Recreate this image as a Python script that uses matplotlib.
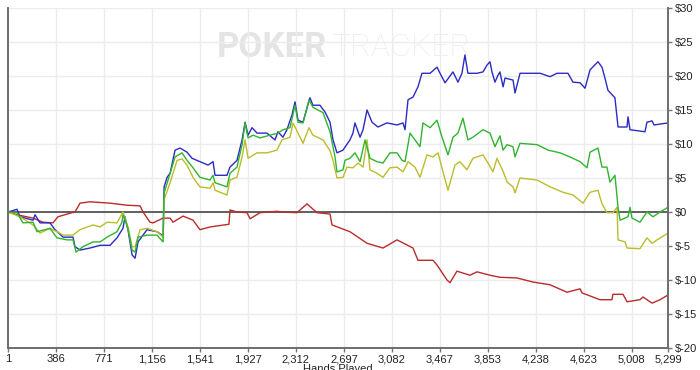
import matplotlib
matplotlib.use('Agg')
import matplotlib.pyplot as plt


plt.rcParams['font.family'] = ['Liberation Sans', 'DejaVu Sans']

# x ticks (hands played) and y ticks (dollars)
hand_ticks = [1, 386, 771, 1156, 1541, 1927, 2312, 2697, 3082, 3467, 3853, 4238, 4623, 5008, 5299]
dollar_ticks = [-20, -15, -10, -5, 0, 5, 10, 15, 20, 25, 30]

# blue: total winnings
blue_hands = [1, 73, 97, 202, 218, 258, 338, 378, 443, 523, 539, 579, 659, 740, 820, 876, 924, 940,
              964, 997, 1021, 1045, 1117, 1197, 1238, 1246, 1254, 1278, 1302, 1342, 1382, 1438, 1478,
              1542, 1607, 1647, 1663, 1759, 1783, 1839, 1880, 1904, 1928, 1960, 2000, 2080, 2144, 2168,
              2208, 2240, 2281, 2305, 2329, 2369, 2425, 2449, 2505, 2546, 2586, 2610, 2642, 2690, 2746,
              2770, 2786, 2827, 2851, 2883, 2923, 2971, 3043, 3124, 3172, 3188, 3212, 3252, 3292, 3324,
              3389, 3445, 3469, 3509, 3573, 3613, 3645, 3669, 3693, 3766, 3814, 3846, 3870, 3886, 3910,
              3934, 3950, 3975, 3991, 4055, 4071, 4111, 4272, 4352, 4408, 4496, 4536, 4593, 4633, 4673,
              4737, 4769, 4793, 4817, 4873, 4898, 4970, 4978, 4994, 5114, 5130, 5171, 5187, 5299]
blue_dollars = [0, 0.4, -0.7, -1.2, -0.4, -1.6, -1.6, -2.6, -3.7, -3.7, -5.1, -5.6, -5.3, -4.9, -4.9,
                -3.8, -2.4, -0.7, -2.6, -6.3, -6.8, -4.4, -2.6, -2.9, -3.4, -3.4, 3.7, 5.1, 5.7, 9.1,
                9.4, 8.8, 7.9, 7.4, 6.9, 7.4, 5.4, 5.4, 6.6, 7.6, 10.6, 13.2, 11.3, 12.4, 11.6, 11.6,
                10.6, 11.8, 11.0, 12.1, 14.3, 16.2, 13.5, 13.2, 16.8, 15.7, 15.7, 14.7, 13.2, 10.6,
                8.7, 9.1, 10.6, 11.6, 13.1, 11.0, 12.1, 15.0, 13.2, 12.5, 13.1, 12.8, 13.1, 12.1,
                16.5, 16.9, 18.4, 20.4, 20.4, 21.3, 20.4, 19.0, 20.6, 19.1, 20.4, 23.1, 20.4, 20.4,
                20.6, 21.6, 22.1, 20.6, 19.1, 20.1, 20.6, 18.4, 19.7, 19.4, 17.5, 20.4, 20.4, 19.9,
                20.4, 20.4, 19.1, 19.0, 18.2, 20.9, 22.1, 21.3, 19.7, 17.9, 16.8, 12.5, 12.5, 14.0,
                12.1, 11.8, 13.2, 13.4, 12.8, 13.1]

# green
green_hands = [1, 73, 121, 202, 234, 338, 394, 475, 523, 547, 603, 683, 740, 796, 876, 916, 924, 964,
               997, 1021, 1045, 1117, 1197, 1246, 1254, 1286, 1342, 1398, 1438, 1486, 1542, 1623, 1647,
               1663, 1759, 1783, 1839, 1880, 1904, 1928, 1968, 2024, 2104, 2168, 2208, 2265, 2305, 2329,
               2369, 2417, 2449, 2530, 2586, 2626, 2642, 2690, 2706, 2746, 2786, 2827, 2867, 2907, 2963,
               3011, 3067, 3124, 3164, 3188, 3228, 3268, 3308, 3332, 3389, 3445, 3485, 3533, 3573, 3613,
               3653, 3693, 3733, 3814, 3870, 3910, 3950, 3975, 4007, 4055, 4071, 4111, 4248, 4336, 4432,
               4512, 4593, 4649, 4673, 4737, 4769, 4809, 4833, 4873, 4898, 4914, 4978, 4994, 5010, 5074,
               5130, 5179, 5235, 5299]
green_dollars = [0, -0.1, -1.6, -1.5, -2.9, -2.4, -3.8, -4.1, -4.1, -5.9, -5.1, -4.4, -4.4, -3.7, -2.9,
                 -1.5, -0.4, -2.4, -5.6, -5.9, -3.7, -3.4, -3.4, -4.4, 2.8, 4.7, 8.1, 8.7, 7.6, 6.5,
                 5.1, 4.7, 5.4, 4.3, 3.7, 5.7, 6.6, 9.9, 13.1, 10.9, 11.3, 10.9, 11.3, 11.6, 12.1, 12.4,
                 15.7, 13.2, 13.1, 16.5, 15.4, 14.6, 11.8, 8.1, 5.9, 6.2, 7.6, 7.9, 8.7, 7.4, 10.6, 7.9,
                 7.4, 7.2, 8.7, 8.7, 7.6, 7.4, 11.6, 10.6, 9.6, 13.1, 12.4, 13.5, 11.0, 8.4, 11.0, 11.6,
                 13.8, 10.6, 11.0, 12.1, 11.6, 9.6, 11.2, 9.1, 9.9, 9.6, 8.1, 10.1, 9.9, 9.1, 8.7, 8.1,
                 7.4, 6.5, 8.8, 9.4, 6.6, 6.6, 4.4, 5.4, 0.7, -1.2, -0.7, 0.7, -0.9, -1.5, 0, -0.7, 0,
                 0.7]

# yellow
yellow_hands = [1, 97, 202, 258, 338, 394, 443, 523, 579, 683, 740, 796, 876, 924, 964, 997, 1021, 1061,
                1117, 1197, 1246, 1254, 1302, 1358, 1398, 1438, 1486, 1542, 1623, 1647, 1663, 1759, 1783,
                1839, 1880, 1904, 1928, 2000, 2080, 2160, 2200, 2265, 2289, 2329, 2369, 2417, 2449, 2530,
                2586, 2610, 2642, 2690, 2722, 2770, 2811, 2851, 2883, 2907, 2963, 3011, 3067, 3124, 3172,
                3212, 3268, 3308, 3364, 3413, 3453, 3493, 3533, 3589, 3629, 3685, 3733, 3814, 3854, 3894,
                3926, 3975, 4007, 4055, 4071, 4111, 4248, 4352, 4456, 4536, 4617, 4673, 4737, 4769, 4809,
                4857, 4890, 4898, 4954, 4970, 5074, 5130, 5171, 5211, 5299]
yellow_dollars = [0, -0.7, -1.9, -3.1, -2.4, -2.9, -3.4, -3.4, -2.6, -1.9, -2.2, -1.5, -1.6, 0, -2.2,
                  -5.1, -5.1, -2.6, -2.4, -2.9, -3.7, 1.8, 4.3, 7.6, 7.8, 6.9, 5.1, 3.7, 3.5, 4.3, 3.2,
                  2.5, 4.7, 5.1, 8.1, 10.6, 7.9, 8.7, 8.7, 9.1, 10.6, 11.0, 13.1, 11.6, 10.1, 12.4, 11.3,
                  10.6, 9.0, 7.6, 5.0, 5.1, 6.6, 6.5, 7.2, 6.6, 10.6, 6.2, 5.7, 5.1, 6.5, 6.6, 5.9, 7.4,
                  6.6, 5.1, 8.4, 8.1, 8.7, 5.9, 3.2, 6.9, 7.4, 6.2, 7.9, 8.4, 7.2, 5.9, 7.9, 6.0, 4.4,
                  3.7, 2.8, 5.0, 4.7, 3.7, 2.9, 2.5, 1.3, 2.9, 3.2, 1.2, -0.1, -0.1, 0.7, -4.1, -4.4,
                  -5.3, -5.4, -3.8, -4.6, -4.1, -3.1]

# red
red_hands = [1, 73, 202, 282, 362, 402, 515, 539, 579, 659, 820, 956, 1061, 1085, 1141, 1165, 1246, 1302,
             1326, 1406, 1486, 1542, 1623, 1775, 1783, 1839, 1920, 1944, 2024, 2160, 2208, 2321, 2401,
             2481, 2586, 2602, 2746, 2883, 3011, 3124, 3252, 3292, 3413, 3445, 3525, 3549, 3605, 3709,
             3766, 3870, 3950, 4087, 4215, 4352, 4488, 4593, 4609, 4753, 4849, 4857, 4938, 4970, 5074,
             5098, 5171, 5235, 5299]
red_dollars = [0, -0.4, -0.9, -1.5, -1.6, -0.7, -0.1, 0, 1.3, 1.5, 1.3, 1.0, 0.9, 0, -1.5, -1.6, -0.9,
               -0.9, -1.5, -0.6, -1.2, -2.6, -2.2, -1.8, 0.3, 0, -0.1, -1.0, -0.1, 0.1, 0, -0.1, 1.2,
               -0.1, -0.3, -1.9, -2.9, -4.6, -5.3, -4.1, -5.3, -7.1, -7.1, -7.8, -10.0, -10.4, -8.7,
               -9.3, -8.8, -9.3, -9.6, -9.7, -10.3, -10.7, -11.8, -11.3, -11.9, -12.9, -12.9, -12.1,
               -12.1, -13.2, -12.9, -12.5, -13.4, -12.9, -12.2]

series = [
    (red_hands, red_dollars, '#bb2b2b'),
    (blue_hands, blue_dollars, '#2b2bc4'),
    (yellow_hands, yellow_dollars, '#bcbc2c'),
    (green_hands, green_dollars, '#2fb42f'),
]


def dollar_label(v):
    return '$%d' % v


fig = plt.figure(figsize=(7, 3.7), dpi=100)
ax = fig.add_axes([8 / 700, 1 - 348 / 370, 660 / 700, 340 / 370])

# watermark
ax.text(0.484, 0.885, 'POKER', transform=ax.transAxes, ha='right', va='center',
        fontsize=25, fontweight='bold', color='#e4e4e4', family='Roboto', zorder=0)
ax.text(0.49, 0.885, 'TRACKER', transform=ax.transAxes, ha='left', va='center',
        fontsize=23, fontweight='light', color='#ececec', family='Roboto', zorder=0)

ax.axhline(0, color='#606060', lw=1.4, zorder=1.5)

for hands, dollars, color in series:
    ax.plot(hands, dollars, color=color, lw=1.0, zorder=2)

ax.set_xlim(1, 5299)
ax.set_ylim(-20, 30)
ax.set_xticks(hand_ticks)
ax.set_xticklabels(['{:,}'.format(h) for h in hand_ticks])
ax.set_yticks(dollar_ticks)
ax.set_yticklabels([dollar_label(v) for v in dollar_ticks])
ax.yaxis.tick_right()
ax.grid(True, color='#ececec', lw=1.0, zorder=0)
ax.set_axisbelow(True)

ax.tick_params(axis='both', labelsize=8, colors='#777777', labelcolor='#222222',
               length=3, width=1, pad=1.5)
ax.tick_params(axis='y', pad=2)

for side in ['left', 'right', 'bottom']:
    ax.spines[side].set_color('#6e6e6e')
    ax.spines[side].set_linewidth(1.4)
ax.spines['top'].set_visible(False)

# axis title sits partly below the bottom edge, as in the original export
fig.text(338 / 700, 1 - 364 / 370, 'Hands Played', ha='center', va='top',
         fontsize=8, color='#222222')

fig.savefig('out.png', dpi=100)
